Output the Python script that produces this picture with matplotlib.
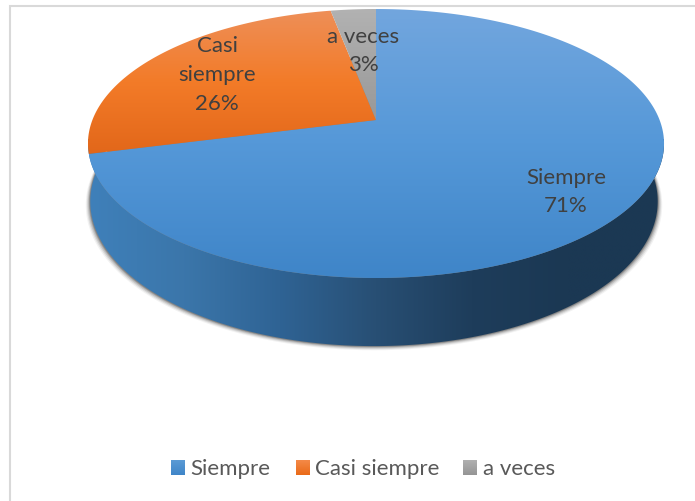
import numpy as np
from matplotlib import pyplot as plt
from matplotlib.colors import LinearSegmentedColormap
from matplotlib.patches import Polygon

# slice values, clockwise starting from the back of the pie
categories = ['Siempre', 'Casi siempre', 'a veces']
values = [71, 26, 3]
slice_labels = ['Siempre\n71%', 'Casi\nsiempre\n26%', 'a veces\n3%']

top_colors = [['#72a6de', '#5598d8', '#3f85c8'],
              ['#ee8f58', '#f37b28', '#e2671a'],
              ['#b2b2b2', '#a5a5a5', '#989898']]
side_colors = ['#3f80ba', '#3b76aa', '#2f6394', '#284f74', '#1e3d5b', '#1b3853', '#1b3853']

plt.rcParams['font.family'] = ['Lato', 'DejaVu Sans']

fig = plt.figure(figsize=(6.95, 5.02), dpi=100)
ax = fig.add_axes([0, 0, 1, 1])
ax.set_xlim(0, 695)
ax.set_ylim(502, 0)
ax.axis('off')

# perspective of the tilted disc, in pixels
CX, CY = 376, 121
RX = 283.6
PY = 109.25
PC = -0.1747


def rim(theta, depth=0, shrink=1.0, shift=0):
    # theta is clockwise from the back of the pie (radians)
    u = np.sin(theta)
    v = -np.cos(theta)
    w = 1 + PC * v
    return np.column_stack([CX + shift + shrink * RX * u / w, (PY * v + CY + depth) / w])


def gradient(colors, clip, extent, horizontal=False, zorder=2):
    cmap = LinearSegmentedColormap.from_list('g', colors)
    g = np.linspace(0, 1, 256)
    g = g.reshape(1, -1) if horizontal else g.reshape(-1, 1)
    im = ax.imshow(g, cmap=cmap, extent=extent, aspect='auto', zorder=zorder, interpolation='bilinear')
    patch = Polygon(clip, closed=True, transform=ax.transData)
    im.set_clip_path(patch)
    return im


# side wall and its soft shadow
t = np.linspace(-np.pi, np.pi, 721)
t_side = np.linspace(np.radians(81), np.radians(279), 400)
DEPTH = 56.2
SHRINK = 0.985
SHIFT = -2
top_edge = rim(t_side)
bottom_edge = rim(t_side, DEPTH, SHRINK, SHIFT)
wall = np.vstack([top_edge, bottom_edge[::-1]])

for grow, alpha in zip([4.5, 3.5, 2.5, 1.5, 0.8], [0.07, 0.12, 0.18, 0.25, 0.35]):
    shadow = rim(t, DEPTH + grow * 0.6, SHRINK * (1 + grow / RX), SHIFT)
    shadow[:, 1] += grow * 0.2
    ax.fill(shadow[:, 0], shadow[:, 1], color='#4a4a4a', alpha=alpha, lw=0, zorder=1)

gradient(side_colors, wall, (88, 664, 360, 140), horizontal=True, zorder=2)

# top face, wedges from the values
fractions = np.array(values) / sum(values)
ends = np.cumsum(fractions) * 2 * np.pi
starts = ends - fractions * 2 * np.pi
for start, end, cols in zip(starts, ends, top_colors):
    arc = rim(np.linspace(start, end, 300))
    pts = np.vstack([[CX, CY], arc])
    # each slice has its own top-to-bottom gradient
    box = (pts[:, 0].min(), pts[:, 0].max(), pts[:, 1].max(), pts[:, 1].min())
    gradient(cols, pts, box, zorder=3)

# data labels
label_pos = [(566, 192), (217, 75), (363, 51)]
for txt, (x, y) in zip(slice_labels, label_pos):
    ax.text(x, y, txt, ha='center', va='center', fontsize=16, color='#404040', linespacing=1.55, zorder=5)

# legend
marker_x = [171, 296, 463]
text_x = [190, 315, 483]
legend_cols = [['#5b9bd5', '#3f85c8'], ['#f48a48', '#ea6a18'], ['#b0b0b0', '#959595']]
for name, mx, tx, cols in zip(categories, marker_x, text_x, legend_cols):
    square = [(mx, 461), (mx + 14, 461), (mx + 14, 476), (mx, 476)]
    gradient(cols, square, (mx, mx + 14, 476, 461), zorder=3)
    ax.text(tx, 475, name, ha='left', va='baseline', fontsize=16, color='#595959', zorder=5)

# chart frame, only top and left survive the crop
ax.plot([9.5, 9.5, 695], [502, 6.5, 6.5], color='#d9d9d9', lw=1.5, zorder=0, solid_joinstyle='miter')

ax.set_xlim(0, 695)
ax.set_ylim(502, 0)
fig.savefig('out.png', dpi=100, facecolor='white')
